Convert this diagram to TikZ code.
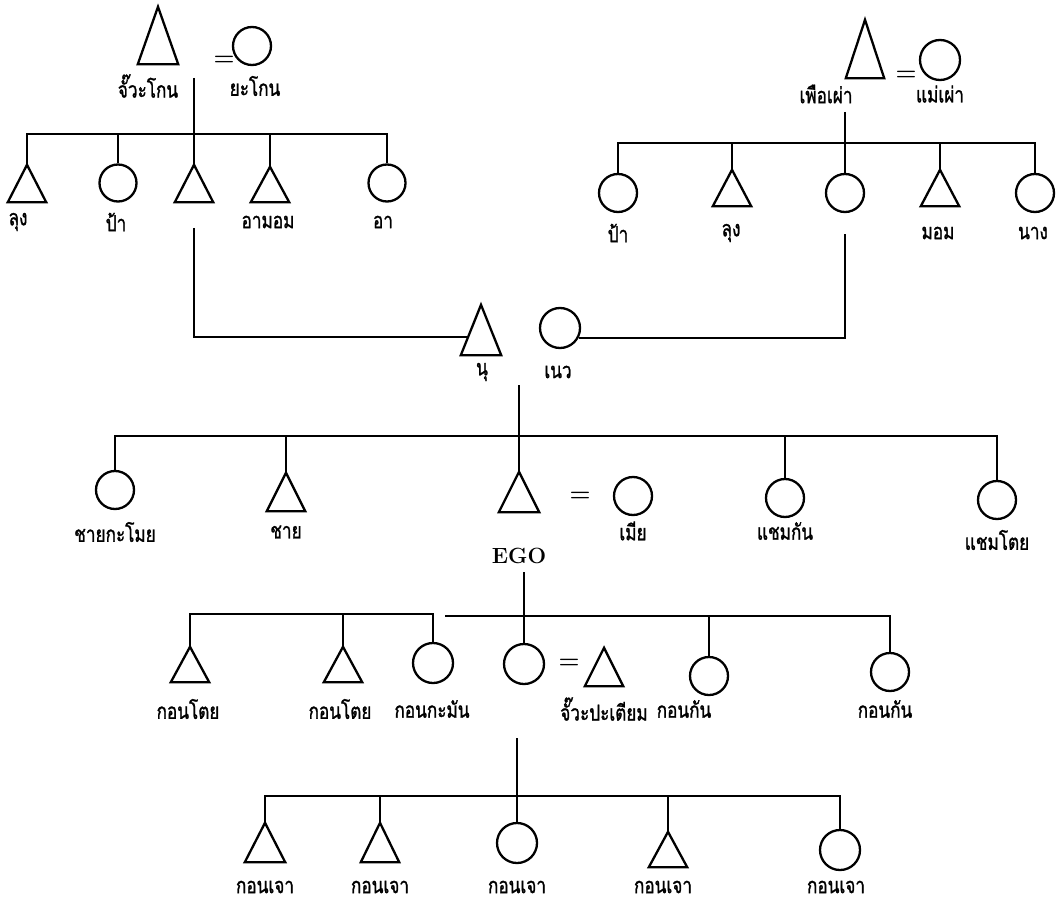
\documentclass[tikz,border=0pt]{standalone}
\usepackage{fontspec}
\newfontfamily\thaifont[Script=Thai,FakeStretch=0.78,FakeBold=1.2]{Loma}
\usetikzlibrary{calc}
\begin{document}
\begin{tikzpicture}[x=1pt,y=-1pt,
  sym/.style={line width=2.3pt},
  lnk/.style={line width=2.1pt},
  fem/.style={circle,draw,line width=2.3pt,minimum size=#1,inner sep=0pt},
  fem/.default=38pt,
  malebox/.style 2 args={rectangle,minimum width=#1,minimum height=#2,inner sep=0pt},
  lab/.style={font=\thaifont\fontsize{22}{24}\selectfont,inner sep=0pt},
  eq/.style={font=\bfseries\fontsize{24}{24}\selectfont,inner sep=0pt},
  egolab/.style={font=\bfseries\fontsize{22}{22}\selectfont,inner sep=0pt}
]
\fill[white] (0,0) rectangle (1056,901);
\useasboundingbox (0,0) rectangle (1056,901);

% ---------- triangles (males) ----------
\node[malebox={40pt}{57pt}] (jk) at (158,35.5) {};
\node[malebox={38pt}{58pt}] (pp) at (865,49) {};
\node[malebox={38pt}{37pt}] (r1) at (27,183.5) {};
\node[malebox={38pt}{37pt}] (r3) at (194,183.5) {};
\node[malebox={38pt}{35pt}] (r4) at (270,184.5) {};
\node[malebox={38pt}{36pt}] (R2) at (732,188) {};
\node[malebox={38pt}{36pt}] (R4) at (940,188) {};
\node[malebox={40pt}{50pt}] (nu) at (481,330) {};
\node[malebox={38pt}{38pt}] (chai) at (286,492) {};
\node[malebox={40pt}{40pt}] (ego) at (519,492) {};
\node[malebox={38pt}{35pt}] (k1) at (190,664.5) {};
\node[malebox={38pt}{35pt}] (k2) at (343,664.5) {};
\node[malebox={38pt}{38pt}] (jp) at (604,667) {};
\node[malebox={40pt}{39pt}] (j1) at (265,842.5) {};
\node[malebox={38pt}{39pt}] (j2) at (380,842.5) {};
\node[malebox={38pt}{35pt}] (j4) at (668,849.5) {};
\foreach \n in {jk,pp,r1,r3,r4,R2,R4,nu,chai,ego,k1,k2,jp,j1,j2,j4}
  \draw[sym] (\n.south west) -- (\n.north) -- (\n.south east) -- cycle;

% ---------- circles (females) ----------
\node[fem] (yk) at (252,46) {};
\node[fem=40pt] (mp) at (940,60) {};
\node[fem=37pt] (r2) at (118,183) {};
\node[fem=37pt] (r5) at (387,183) {};
\node[fem] (R1) at (618,193) {};
\node[fem] (R3) at (845,193) {};
\node[fem] (R5) at (1035,193) {};
\node[fem=40pt] (nw) at (560,328) {};
\node[fem] (ck) at (115,490) {};
\node[fem] (mia) at (633,496) {};
\node[fem] (sk) at (785,498) {};
\node[fem] (st) at (997,500) {};
\node[fem=40pt] (km) at (433,663) {};
\node[fem=40pt] (ec) at (524,664) {};
\node[fem] (kk1) at (709,676) {};
\node[fem] (kk2) at (890,672) {};
\node[fem=40pt] (j3) at (517,843) {};
\node[fem=40pt] (j5) at (840,850) {};

% ---------- marriage signs ----------
\node[eq] (q1) at (224,61) {=};
\node[eq] (q2) at (906,76) {=};
\node[eq] (q3) at (580,497) {=};
\node[eq] (q4) at (569,664) {=};

% ---------- free ends ----------
\coordinate (p1) at (194,78);
\coordinate (s1) at (194,134);
\coordinate (p2) at (845,112);
\coordinate (s2) at (845,143);
\coordinate (m1) at (194,228);
\coordinate (m2) at (845,234);
\coordinate (e0) at (519,385);
\coordinate (s3) at (519,436);
\coordinate (e1) at (524,572);
\coordinate (s4) at (435,614);
\coordinate (s4b) at (445,616);
\coordinate (e2) at (517,738);
\coordinate (s5) at (517,796);

% ---------- connectors ----------
% family of the left grandparents
\draw[lnk] (p1) -- (r3.north);
\draw[lnk] (r1.north) -- (r1.north |- s1) -- (r5.north |- s1) -- (r5.north);
\foreach \n in {r2,r4} \draw[lnk] (\n.north) -- (\n.north |- s1);
% family of the right grandparents
\draw[lnk] (p2) -- (R3.north);
\draw[lnk] (R1.north) -- (R1.north |- s2) -- (R5.north |- s2) -- (R5.north);
\foreach \n in {R2,R4} \draw[lnk] (\n.north) -- (\n.north |- s2);
% parents
\draw[lnk] (m1) |- ($(nu.south west)!0.36!(nu.north)$);
\draw[lnk] (nw.-27) -| (m2);
% EGO's generation
\draw[lnk] (e0) -- (ego.north);
\draw[lnk] (ck.north) -- (ck.north |- s3) -- (st.north |- s3) -- (st.north);
\foreach \n in {chai,sk} \draw[lnk] (\n.north) -- (\n.north |- s3);
% EGO's children
\draw[lnk] (e1) -- (ec.north);
\draw[lnk] (k1.north) -- (k1.north |- s4) -| (km.north);
\draw[lnk] (k2.north) -- (k2.north |- s4);
\draw[lnk] (s4b) -| (kk2.north);
\draw[lnk] (kk1.north) -- (kk1.north |- s4b);
% grandchildren
\draw[lnk] (e2) -- (j3.north);
\draw[lnk] (j1.north) -- (j1.north |- s5) -| (j5.north);
\foreach \n in {j2,j4} \draw[lnk] (\n.north) -- (\n.north |- s5);

% ---------- labels ----------
\node[lab] (L1) at (148,86) {จั๊วะโกน};
\node[lab] (L2) at (255,86) {ยะโกน};
\node[lab] (L3) at (826,94) {เพือเผ่า};
\node[lab] (L4) at (940,94) {แม่เผ่า};
\node[lab] (L5) at (18,222) {ลุง};
\node[lab] (L6) at (116,222) {ป้า};
\node[lab] (L7) at (268,222) {อามอม};
\node[lab] (L8) at (383,222) {อา};
\node[lab] (L9) at (618,233) {ป้า};
\node[lab] (L10) at (731,233) {ลุง};
\node[lab] (L11) at (938,233) {มอม};
\node[lab] (L12) at (1033,233) {นาง};
\node[lab] (L13) at (482,372) {นุ};
\node[lab] (L14) at (558,372) {เนว};
\node[lab] (L15) at (115,532) {ชายกะโมย};
\node[lab] (L16) at (286,532) {ชาย};
\node[lab] (L17) at (633,531) {เมีย};
\node[lab] (L18) at (785,531) {แชมกัน};
\node[lab] (L19) at (997,540) {แชมโตย};
\node[egolab] (L20) at (519,556) {EGO};
\node[lab] (L21) at (188,709) {กอนโตย};
\node[lab] (L22) at (340,709) {กอนโตย};
\node[lab] (L23) at (432,709) {กอนกะมัน};
\node[lab] (L24) at (604,709) {จั๊วะปะเตียม};
\node[lab] (L25) at (684,709) {กอนกัน};
\node[lab] (L26) at (885,709) {กอนกัน};
\node[lab] (L27) at (265,887) {กอนเจา};
\node[lab] (L28) at (380,887) {กอนเจา};
\node[lab] (L29) at (517,887) {กอนเจา};
\node[lab] (L30) at (663,887) {กอนเจา};
\node[lab] (L31) at (836,887) {กอนเจา};
\end{tikzpicture}
\end{document}
